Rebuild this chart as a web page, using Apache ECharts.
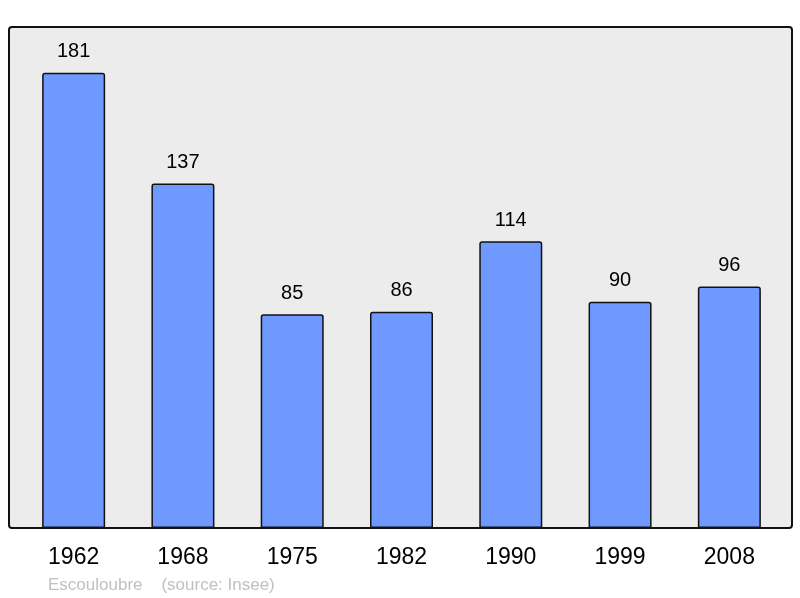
<!DOCTYPE html>
<html>
<head>
<meta charset="utf-8">
<script src="https://cdn.jsdelivr.net/npm/echarts@6/dist/echarts.min.js"></script>
<style>
  html, body { margin: 0; padding: 0; background: #fff; }
  #chart { width: 800px; height: 598px; }
</style>
</head>
<body>
<div id="chart"></div>
<script>
const years = ['1962', '1968', '1975', '1982', '1990', '1999', '2008']
const population = [181, 137, 85, 86, 114, 90, 96]
const footer = 'Escouloubre    (source: Insee)'

const chart = echarts.init(document.getElementById('chart'))
chart.setOption({
  animation: false,
  textStyle: { fontFamily: 'Liberation Sans, Arial, sans-serif' },
  title: {
    text: footer,
    left: 48,
    top: 577,
    padding: 0,
    textStyle: { fontSize: 17, fontWeight: 'normal', color: '#c0c0c0' }
  },
  graphic: [
    {
      // fond gris du cadre
      type: 'rect',
      z: -10,
      shape: { x: 9, y: 27, width: 783, height: 501, r: 3 },
      style: { fill: '#ececec', stroke: '#111', lineWidth: 2 }
    }
  ],
  grid: { left: 19, right: 16, top: 27, bottom: 70 },
  xAxis: {
    type: 'category',
    data: years,
    axisLine: { show: false },
    axisTick: { show: false },
    axisLabel: { fontSize: 23, color: '#000', margin: 18 }
  },
  yAxis: {
    type: 'value',
    min: 0,
    max: 199.2,
    show: false,
    splitLine: { show: false }
  },
  series: [{
    type: 'bar',
    data: population,
    barWidth: 63,
    itemStyle: {
      color: '#7099ff',
      borderColor: '#111',
      borderWidth: 1.5,
      borderRadius: [2, 2, 0, 0]
    },
    label: {
      show: true,
      position: 'top',
      distance: 11,
      fontSize: 20,
      color: '#000'
    }
  }]
})
</script>
</body>
</html>
